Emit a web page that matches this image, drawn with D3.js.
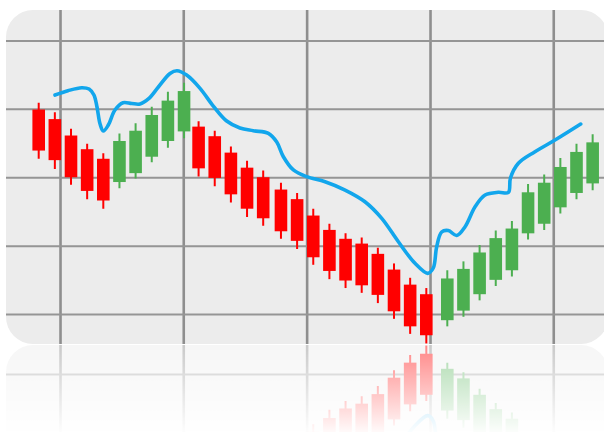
<!DOCTYPE html>
<html>
<head>
<meta charset="utf-8">
<script src="https://cdn.jsdelivr.net/npm/d3@7"></script>
<style>
    body { margin: 0; background: #ffffff; overflow: hidden; }
    #chart-area { width: 604px; height: 432px; }
</style>
</head>
<body>
<div id="chart-area"></div>
<script>

// candles, one per trading day
let candleDay   = [0, 1, 2, 3, 4, 5, 6, 7, 8, 9, 9.9, 10.9, 11.9, 12.9, 13.9, 15, 16, 17, 18, 19, 20, 21, 22, 23, 24,
                   25.3, 26.3, 27.3, 28.3, 29.3, 30.3, 31.3, 32.3, 33.3, 34.3];
let candleOpen  = [39.9, 38.5, 36.1, 34.1, 32.7, 29.3, 30.6, 33.0, 35.3, 36.7, 37.4, 36.0, 33.6, 31.4, 30.0, 28.2, 26.8, 24.4,
                   22.3, 21.0, 20.3, 18.8, 16.5, 14.3, 12.9, 9.1, 10.5, 12.9, 15.0, 16.4, 21.8, 23.2, 25.6, 27.7, 29.1];
let candleHigh  = [40.9, 39.5, 37.1, 34.9, 33.5, 36.4, 37.9, 40.3, 42.5, 43.8, 38.2, 36.8, 34.5, 32.4, 31.0, 29.2, 27.7, 25.4,
                   23.2, 21.8, 21.2, 19.7, 17.4, 15.3, 13.8, 16.4, 17.7, 20.1, 22.2, 23.6, 29.0, 30.4, 32.8, 34.9, 36.3];
let candleLow   = [32.7, 31.2, 28.9, 26.8, 25.4, 28.4, 29.8, 32.2, 34.3, 35.7, 30.1, 28.7, 26.3, 24.2, 22.9, 21.0, 19.5, 17.2,
                   15.1, 13.8, 13.1, 11.6, 9.3, 7.1, 5.7, 8.2, 9.6, 12.0, 14.1, 15.5, 20.9, 22.3, 24.7, 26.8, 28.1];
let candleClose = [33.9, 32.5, 30.0, 28.0, 26.6, 35.3, 36.8, 39.1, 41.2, 42.6, 31.3, 29.9, 27.5, 25.4, 24.0, 22.1, 20.7, 18.3,
                   16.3, 14.9, 14.2, 12.8, 10.4, 8.2, 6.9, 15.2, 16.6, 19.0, 21.1, 22.5, 27.8, 29.2, 31.5, 33.7, 35.1];

// blue trend line
let lineDay   = [1.01, 1.81, 2.66, 3.12, 3.42, 3.61, 3.80, 4.00, 4.31, 4.72, 5.22, 5.76, 6.27, 6.79, 7.41, 8.13, 8.56,
                 9.16, 9.99, 10.81, 11.64, 12.46, 13.29, 14.22, 14.74, 15.15, 15.77, 16.59, 17.73, 18.97, 20.20, 21.24,
                 22.27, 23.30, 24.09, 24.43, 24.64, 24.95, 25.36, 25.88, 26.40, 27.02, 27.64, 28.46, 29.08, 29.21, 29.70,
                 30.73, 31.97, 33.56];
let lineValue = [42.02, 42.65, 43.09, 42.90, 42.02, 40.27, 37.78, 36.76, 37.63, 39.83, 40.90, 40.78, 40.71, 41.44, 43.19,
                 45.16, 45.57, 44.94, 43.00, 40.41, 38.22, 37.20, 36.80, 36.42, 35.15, 33.00, 31.06, 30.08, 29.35, 28.13,
                 26.42, 23.99, 20.57, 17.41, 15.95, 16.73, 19.80, 21.99, 22.21, 21.48, 22.77, 25.69, 27.40, 27.80, 27.77,
                 29.89, 32.04, 33.73, 35.44, 37.78];

// grid positions
let gridDays   = [1.32, 8.95, 16.59, 24.23, 31.86];
let gridValues = [10, 20, 30, 40, 50];


class CandleVis {
    constructor(parentElement){
        this.parentElement = parentElement;
        this.initVis();
    }

    initVis(){
        let vis = this;

        vis.width = 604;
        vis.height = 432;
        vis.panel = {left: 6, top: 10, right: 608, bottom: 344, radius: 27};

        vis.svg = d3.select("#" + vis.parentElement).append("svg")
            .attr("width", vis.width)
            .attr("height", vis.height);

        let defs = vis.svg.append("defs");

        defs.append("clipPath")
            .attr("id", "panelClip")
            .append("rect")
            .attr("x", vis.panel.left)
            .attr("y", vis.panel.top)
            .attr("width", vis.panel.right - vis.panel.left)
            .attr("height", vis.panel.bottom - vis.panel.top)
            .attr("rx", vis.panel.radius);

        // fading mask for the reflection
        let grad = defs.append("linearGradient")
            .attr("id", "fadeGrad")
            .attr("x1", 0).attr("y1", 0)
            .attr("x2", 0).attr("y2", 1);
        grad.append("stop").attr("offset", "0%").attr("stop-color", "#fff").attr("stop-opacity", 0.48);
        grad.append("stop").attr("offset", "100%").attr("stop-color", "#fff").attr("stop-opacity", 0);

        defs.append("mask")
            .attr("id", "fadeMask")
            .attr("maskUnits", "userSpaceOnUse")
            .attr("x", 0).attr("y", 0).attr("width", vis.width).attr("height", vis.height)
            .append("rect")
            .attr("x", 0)
            .attr("y", vis.panel.bottom)
            .attr("width", vis.width)
            .attr("height", 92)
            .attr("fill", "url(#fadeGrad)");

        // Scales
        vis.x = d3.scaleLinear()
            .domain([-2.025, 35.25])
            .range([vis.panel.left, vis.panel.right]);

        vis.y = d3.scaleLinear()
            .domain([5.62, 54.45])
            .range([vis.panel.bottom, vis.panel.top]);

        vis.chart = vis.svg.append("g")
            .attr("id", "mainChart")
            .attr("clip-path", "url(#panelClip)");

        // reflection of the whole chart
        vis.svg.append("g")
            .attr("mask", "url(#fadeMask)")
            .append("use")
            .attr("href", "#mainChart")
            .attr("transform", `translate(0, ${2 * vis.panel.bottom + 1}) scale(1, -1)`);

        vis.wrangleData();
    }

    wrangleData(){
        let vis = this;

        vis.candles = candleDay.map((d, i) => ({
            day: d,
            open: candleOpen[i],
            high: candleHigh[i],
            low: candleLow[i],
            close: candleClose[i]
        }));

        vis.trend = lineDay.map((d, i) => ({day: d, value: lineValue[i]}));

        vis.updateVis();
    }

    updateVis(){
        let vis = this;

        vis.chart.append("rect")
            .attr("x", vis.panel.left)
            .attr("y", vis.panel.top)
            .attr("width", vis.panel.right - vis.panel.left)
            .attr("height", vis.panel.bottom - vis.panel.top)
            .attr("fill", "#ececec");

        // grid lines
        let xGrid = vis.chart.append("g")
            .attr("class", "x-grid")
            .attr("transform", `translate(0, ${vis.panel.bottom})`)
            .call(d3.axisBottom(vis.x)
                .tickValues(gridDays)
                .tickSize(-(vis.panel.bottom - vis.panel.top))
                .tickFormat(""));

        let yGrid = vis.chart.append("g")
            .attr("class", "y-grid")
            .attr("transform", `translate(${vis.panel.left}, 0)`)
            .call(d3.axisLeft(vis.y)
                .tickValues(gridValues)
                .tickSize(-(vis.panel.right - vis.panel.left))
                .tickFormat(""));

        [xGrid, yGrid].forEach(g => g.select(".domain").remove());
        xGrid.selectAll(".tick line").attr("stroke", "#8e8e8e").attr("stroke-width", 2.6);
        yGrid.selectAll(".tick line").attr("stroke", "#959595").attr("stroke-width", 2);

        let bodyWidth = (vis.x(1) - vis.x(0)) * 0.78;
        let color = d => d.close >= d.open ? "#4caf50" : "#ff0000";

        let candle = vis.chart.selectAll(".candle")
            .data(vis.candles)
            .join("g")
            .attr("class", "candle");

        candle.append("line")
            .attr("x1", d => vis.x(d.day))
            .attr("x2", d => vis.x(d.day))
            .attr("y1", d => vis.y(d.high))
            .attr("y2", d => vis.y(d.low))
            .attr("stroke", color)
            .attr("stroke-width", 2);

        candle.append("rect")
            .attr("x", d => vis.x(d.day) - bodyWidth / 2)
            .attr("width", bodyWidth)
            .attr("y", d => vis.y(Math.max(d.open, d.close)))
            .attr("height", d => Math.abs(vis.y(d.open) - vis.y(d.close)))
            .attr("fill", color);

        vis.line = d3.line()
            .curve(d3.curveCatmullRom.alpha(0.5))
            .x(d => vis.x(d.day))
            .y(d => vis.y(d.value));

        vis.chart.append("path")
            .datum(vis.trend)
            .attr("d", vis.line)
            .attr("fill", "none")
            .attr("stroke", "#12a6ec")
            .attr("stroke-width", 3.6)
            .attr("stroke-linecap", "round")
            .attr("stroke-linejoin", "round");
    }
}

new CandleVis("chart-area");
</script>
</body>
</html>
